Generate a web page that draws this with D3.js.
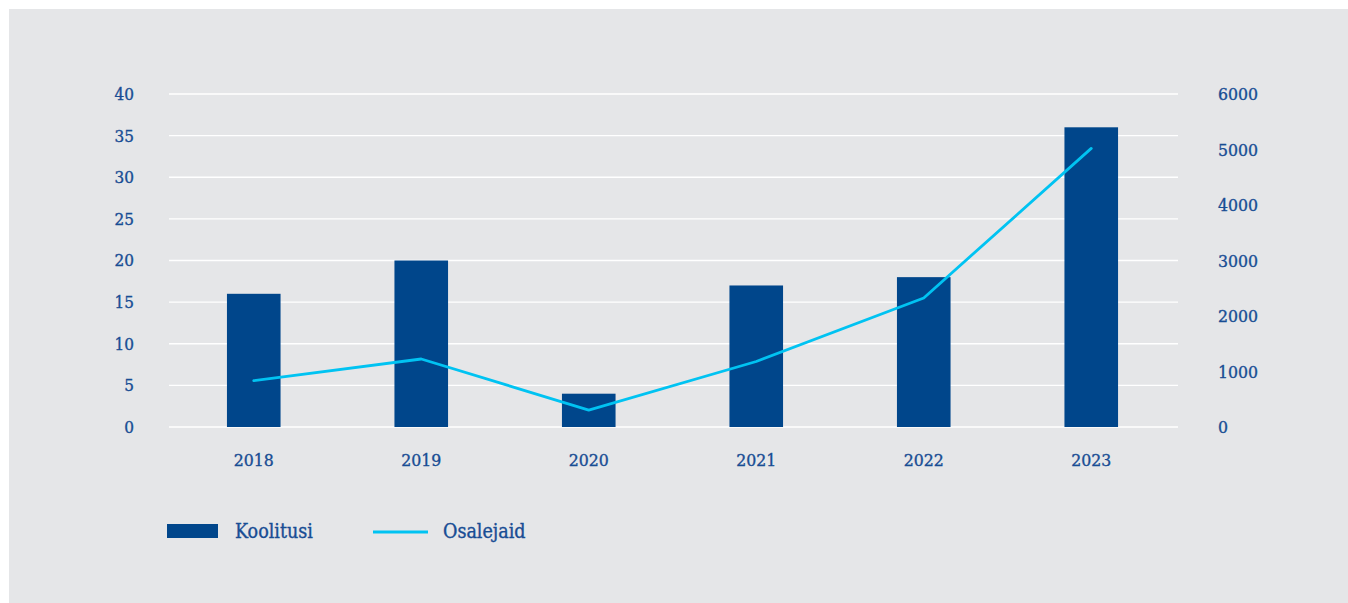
<!DOCTYPE html>
<html>
<head>
<meta charset="utf-8">
<script src="https://cdn.jsdelivr.net/npm/d3@7"></script>
<style>
  html, body { margin: 0; padding: 0; background: #ffffff; }
  svg text {
    font-family: "DejaVu Serif Condensed", "DejaVu Serif", serif;
    font-stretch: condensed;
    fill: #184d94;
    stroke: #184d94;
    stroke-width: 0.35px;
  }
</style>
</head>
<body>
<svg id="chart" width="1348" height="603"></svg>
<script>
// Yearly trainings (bars, left axis) and participants (line, right axis)
const years = ["2018", "2019", "2020", "2021", "2022", "2023"];
const trainings = [16, 20, 4, 17, 18, 36];
const participants = [835, 1225, 305, 1180, 2325, 5020];
const leftTicks = [0, 5, 10, 15, 20, 25, 30, 35, 40];
const rightTicks = [0, 1000, 2000, 3000, 4000, 5000, 6000];
const seriesNames = ["Koolitusi", "Osalejaid"];

const barColor = "#00468b";
const lineColor = "#00c3f2";
const gridColor = "#ffffff";

const svg = d3.select("#chart");

// panel background
svg.append("rect")
  .attr("x", 9).attr("y", 9)
  .attr("width", 1339).attr("height", 594)
  .attr("fill", "#e5e6e8");

const plot = { left: 169, right: 1178, top: 94, bottom: 427 };

const x = d3.scaleBand()
  .domain(years)
  .range([170, 1175])
  .paddingInner(0.68)
  .paddingOuter(0.34);

const yLeft = d3.scaleLinear().domain([0, 40]).range([plot.bottom, plot.top]);
const yRight = d3.scaleLinear().domain([0, 6000]).range([plot.bottom, plot.top]);

// gridlines
svg.append("g")
  .selectAll("line")
  .data(leftTicks)
  .join("line")
  .attr("x1", plot.left).attr("x2", plot.right)
  .attr("y1", d => yLeft(d)).attr("y2", d => yLeft(d))
  .attr("stroke", gridColor).attr("stroke-width", 1.3);

// left axis
const leftAxis = svg.append("g")
  .attr("transform", `translate(${plot.left - 35},0)`)
  .call(d3.axisLeft(yLeft).tickValues(leftTicks).tickSize(0).tickPadding(0));
leftAxis.select(".domain").remove();
leftAxis.selectAll("text").style("font-size", "17px");

// right axis
const rightAxis = svg.append("g")
  .attr("transform", `translate(${plot.right + 40},0)`)
  .call(d3.axisRight(yRight).tickValues(rightTicks).tickFormat(d3.format("d")).tickSize(0).tickPadding(0));
rightAxis.select(".domain").remove();
rightAxis.selectAll("text").style("font-size", "17.5px");

// bottom axis
const bottomAxis = svg.append("g")
  .attr("transform", `translate(0,${plot.bottom + 27})`)
  .call(d3.axisBottom(x).tickSize(0).tickPadding(0));
bottomAxis.select(".domain").remove();
bottomAxis.selectAll("text").style("font-size", "17.5px");

// bars
svg.append("g")
  .selectAll("rect")
  .data(years.map((yr, i) => ({ yr, v: trainings[i] })))
  .join("rect")
  .attr("x", d => x(d.yr))
  .attr("width", x.bandwidth())
  .attr("y", d => yLeft(d.v))
  .attr("height", d => yLeft(0) - yLeft(d.v))
  .attr("fill", barColor);

// participants line
const line = d3.line()
  .x((d, i) => x(years[i]) + x.bandwidth() / 2)
  .y(d => yRight(d));

svg.append("path")
  .datum(participants)
  .attr("d", line)
  .attr("fill", "none")
  .attr("stroke", lineColor)
  .attr("stroke-width", 2.8)
  .attr("stroke-linejoin", "round")
  .attr("stroke-linecap", "round");

// legend
const legend = svg.append("g");
legend.append("rect")
  .attr("x", 167).attr("y", 524)
  .attr("width", 51).attr("height", 14)
  .attr("fill", barColor);
legend.append("text")
  .attr("x", 235).attr("y", 538)
  .style("font-size", "19.5px")
  .text(seriesNames[0]);
legend.append("line")
  .attr("x1", 373).attr("x2", 428)
  .attr("y1", 532).attr("y2", 532)
  .attr("stroke", lineColor).attr("stroke-width", 2.8);
legend.append("text")
  .attr("x", 443).attr("y", 538)
  .style("font-size", "19.5px")
  .text(seriesNames[1]);
</script>
</body>
</html>
